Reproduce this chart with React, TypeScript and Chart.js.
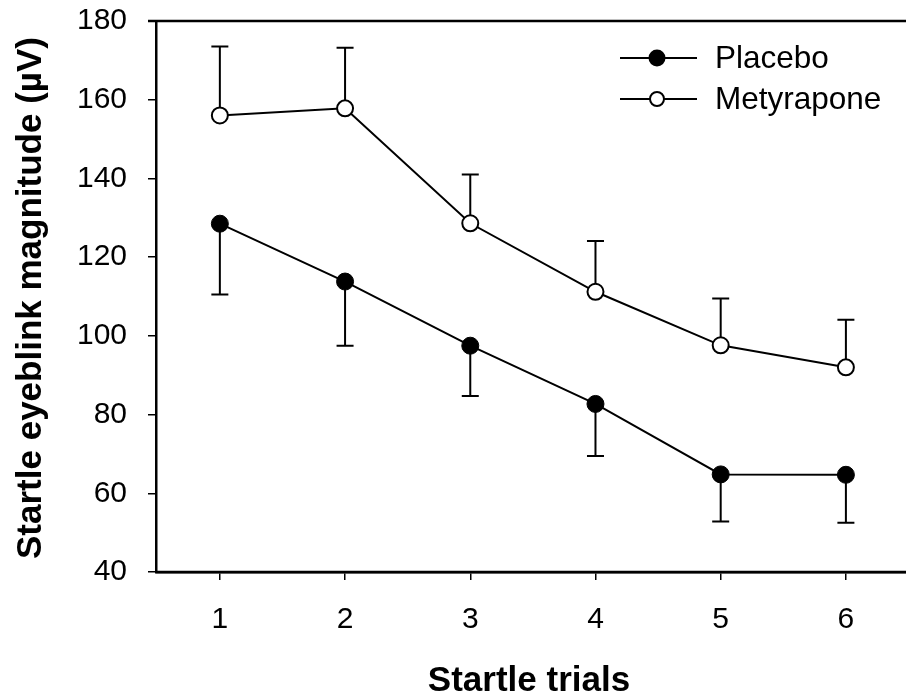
import React, { useEffect, useRef } from "react";
import { Chart, registerables } from "chart.js";

Chart.register(...registerables);

const trials = [1, 2, 3, 4, 5, 6];
const yTicks = [40, 60, 80, 100, 120, 140, 160, 180];
const placeboMean = [128.5, 113.8, 97.5, 82.7, 64.8, 64.7];
const placeboSE = [18.0, 16.3, 12.8, 13.2, 12.0, 12.2];
const metyraponeMean = [156.0, 157.8, 128.6, 111.2, 97.6, 92.0];
const metyraponeSE = [17.5, 15.4, 12.4, 12.9, 11.9, 12.1];

const FONT = "'Liberation Sans', Arial, Helvetica, sans-serif";

export default function App() {
  const ref = useRef<HTMLCanvasElement | null>(null);

  useEffect(() => {
    const canvas = ref.current;
    if (!canvas) return;

    const customPlugin = {
      id: "custom",
      beforeDatasetsDraw(chart: any) {
        const ctx = chart.ctx;
        const xs = chart.scales.x;
        const ys = chart.scales.y;
        ctx.save();
        ctx.strokeStyle = "#000";
        ctx.lineWidth = 2;
        const cap = 8.5;
        trials.forEach((t, i) => {
          const x = xs.getPixelForValue(t);
          const y0 = ys.getPixelForValue(placeboMean[i]);
          const y1 = ys.getPixelForValue(placeboMean[i] - placeboSE[i]);
          ctx.beginPath();
          ctx.moveTo(x, y0);
          ctx.lineTo(x, y1);
          ctx.moveTo(x - cap, y1);
          ctx.lineTo(x + cap, y1);
          ctx.stroke();
          const m0 = ys.getPixelForValue(metyraponeMean[i]);
          const m1 = ys.getPixelForValue(metyraponeMean[i] + metyraponeSE[i]);
          ctx.beginPath();
          ctx.moveTo(x, m0);
          ctx.lineTo(x, m1);
          ctx.moveTo(x - cap, m1);
          ctx.lineTo(x + cap, m1);
          ctx.stroke();
        });
        ctx.restore();
      },
      afterDraw(chart: any) {
        const ctx = chart.ctx;
        const area = chart.chartArea;
        ctx.save();
        ctx.strokeStyle = "#000";
        ctx.lineWidth = 2.5;
        ctx.beginPath();
        ctx.moveTo(148, area.top);
        ctx.lineTo(chart.width, area.top);
        ctx.moveTo(area.left, area.bottom);
        ctx.lineTo(chart.width, area.bottom);
        ctx.stroke();

        const items = [
          { label: "Placebo", y: 58, fill: "#000", r: 7.5 },
          { label: "Metyrapone", y: 99, fill: "#fff", r: 7 },
        ];
        items.forEach((it) => {
          ctx.strokeStyle = "#000";
          ctx.lineWidth = 2;
          ctx.beginPath();
          ctx.moveTo(620, it.y);
          ctx.lineTo(697, it.y);
          ctx.stroke();
          ctx.beginPath();
          ctx.arc(657, it.y, it.r, 0, Math.PI * 2);
          ctx.fillStyle = it.fill;
          ctx.fill();
          ctx.stroke();
          ctx.fillStyle = "#000";
          ctx.font = `31.5px ${FONT}`;
          ctx.textAlign = "left";
          ctx.textBaseline = "middle";
          ctx.fillText(it.label, 715, it.y + 1);
        });

        ctx.fillStyle = "#000";
        ctx.font = `bold 35px ${FONT}`;
        ctx.textAlign = "center";
        ctx.textBaseline = "alphabetic";
        ctx.fillText("Startle trials", 529, 691);

        ctx.translate(41, 298);
        ctx.rotate(-Math.PI / 2);
        ctx.fillText("Startle eyeblink magnitude (µV)", 0, 0);
        ctx.restore();
      },
    };

    const chart = new Chart(canvas, {
      type: "line",
      data: {
        datasets: [
          {
            label: "Placebo",
            data: trials.map((t, i) => ({ x: t, y: placeboMean[i] })),
            borderColor: "#000",
            borderWidth: 2,
            pointRadius: 8.5,
            pointBackgroundColor: "#000",
            pointBorderColor: "#000",
            pointBorderWidth: 1,
            tension: 0,
          },
          {
            label: "Metyrapone",
            data: trials.map((t, i) => ({ x: t, y: metyraponeMean[i] })),
            borderColor: "#000",
            borderWidth: 2,
            pointRadius: 8,
            pointBackgroundColor: "#fff",
            pointBorderColor: "#000",
            pointBorderWidth: 2,
            tension: 0,
          },
        ],
      },
      options: {
        animation: false,
        responsive: false,
        devicePixelRatio: 1,
        layout: { autoPadding: false, padding: { top: 21, left: 0, right: 0, bottom: 0 } },
        plugins: {
          legend: { display: false },
          tooltip: { enabled: false },
          title: { display: false },
        },
        scales: {
          x: {
            type: "linear",
            min: 0.49,
            max: 6.48,
            afterBuildTicks: (scale: any) => {
              scale.ticks = trials.map((v) => ({ value: v }));
            },
            afterFit: (scale: any) => {
              scale.height = 125;
              scale.paddingLeft = 0;
              scale.paddingRight = 0;
            },
            border: { display: true, color: "#000", width: 2.5 },
            grid: {
              display: true,
              drawOnChartArea: false,
              drawTicks: true,
              tickLength: 8,
              color: "#000",
              lineWidth: 1.5,
            },
            ticks: {
              color: "#000",
              font: { family: FONT, size: 30 },
              padding: 22,
              maxRotation: 0,
              autoSkip: false,
              callback: (v: any) => String(v),
            },
          },
          y: {
            type: "linear",
            min: 40,
            max: 180,
            afterBuildTicks: (scale: any) => {
              scale.ticks = yTicks.map((v) => ({ value: v }));
            },
            afterFit: (scale: any) => {
              scale.width = 156;
              scale.paddingTop = 0;
              scale.paddingBottom = 0;
            },
            border: { display: true, color: "#000", width: 2.5 },
            grid: {
              display: true,
              drawOnChartArea: false,
              drawTicks: true,
              tickLength: 8,
              color: "#000",
              lineWidth: 1.5,
            },
            ticks: {
              color: "#000",
              font: { family: FONT, size: 30 },
              padding: 21,
              callback: (v: any) => String(v),
            },
          },
        },
      },
      plugins: [customPlugin],
    } as any);

    return () => {
      chart.destroy();
    };
  }, []);

  return (
    <div style={{ position: "absolute", left: 0, top: 0, width: 906, height: 697, background: "#fff" }}>
      <canvas ref={ref} width={906} height={697} style={{ display: "block", width: 906, height: 697 }} />
    </div>
  );
}
